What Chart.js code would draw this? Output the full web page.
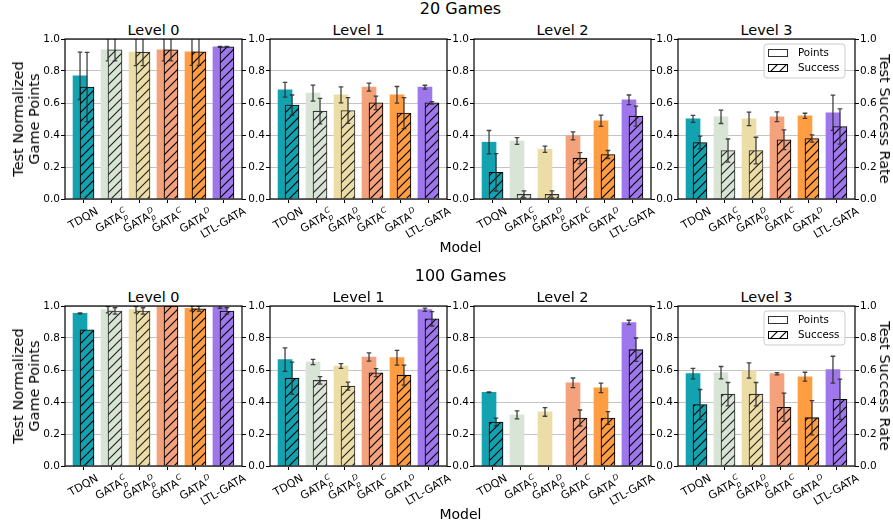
<!DOCTYPE html>
<html><head><meta charset="utf-8">
<script src="https://cdn.jsdelivr.net/npm/chart.js@4.4.1/dist/chart.umd.min.js"></script>
<style>
html,body{margin:0;padding:0;background:#fff;}
#wrap{position:relative;width:893px;height:527px;overflow:hidden;font-family:"DejaVu Sans",sans-serif;color:#000;background:#fff;}
#wrap canvas{position:absolute;}
.t{position:absolute;transform:translate(-50%,-50%);white-space:nowrap;line-height:1;}
.yl{position:absolute;white-space:nowrap;text-align:center;line-height:16px;font-size:14.5px;}
</style></head><body><div id="wrap"></div>
<script>
// ---------- data ----------
const categories = ['TDQN', 'GATA_p^C', 'GATA_p^D', 'GATA^C', 'GATA^D', 'LTL-GATA'];
const tickLabels = [
  {base: 'TDQN'},
  {base: 'GATA', sup: 'C', sub: 'p'},
  {base: 'GATA', sup: 'D', sub: 'p'},
  {base: 'GATA', sup: 'C'},
  {base: 'GATA', sup: 'D'},
  {base: 'LTL-GATA'}
];
const levelTitles = ['Level 0', 'Level 1', 'Level 2', 'Level 3'];
const rowTitles = ['20 Games', '100 Games'];
const seriesNames = ['Points', 'Success'];
const yTicks = [0, 0.2, 0.4, 0.6, 0.8, 1.0];

// 20 games: one array per level (order of categories)
const points20 = [
  [0.770, 0.933, 0.918, 0.933, 0.920, 0.951],
  [0.683, 0.662, 0.651, 0.699, 0.651, 0.699],
  [0.355, 0.363, 0.311, 0.395, 0.489, 0.620],
  [0.501, 0.514, 0.501, 0.514, 0.520, 0.539]
];
const pointsErr20 = [
  [0.148, 0.070, 0.085, 0.070, 0.085, 0.003],
  [0.046, 0.050, 0.050, 0.025, 0.052, 0.012],
  [0.073, 0.021, 0.020, 0.025, 0.035, 0.030],
  [0.022, 0.042, 0.042, 0.030, 0.016, 0.110]
];
const success20 = [
  [0.700, 0.933, 0.918, 0.933, 0.920, 0.951],
  [0.587, 0.549, 0.553, 0.601, 0.537, 0.601],
  [0.167, 0.029, 0.029, 0.255, 0.278, 0.518],
  [0.353, 0.303, 0.303, 0.370, 0.378, 0.453]
];
const successErr20 = [
  [0.217, 0.070, 0.085, 0.070, 0.085, 0.003],
  [0.063, 0.080, 0.080, 0.042, 0.097, 0.008],
  [0.117, 0.022, 0.022, 0.035, 0.025, 0.063],
  [0.040, 0.072, 0.083, 0.062, 0.023, 0.110]
];
// 100 games
const points100 = [
  [0.954, 0.977, 0.977, 1.000, 0.985, 0.994],
  [0.665, 0.650, 0.625, 0.681, 0.677, 0.977],
  [0.461, 0.319, 0.338, 0.520, 0.488, 0.897],
  [0.577, 0.583, 0.597, 0.577, 0.558, 0.602]
];
const pointsErr100 = [
  [0.003, 0.020, 0.020, 0.000, 0.015, 0.008],
  [0.073, 0.017, 0.015, 0.026, 0.046, 0.010],
  [0.002, 0.025, 0.027, 0.030, 0.030, 0.014],
  [0.033, 0.039, 0.048, 0.007, 0.028, 0.084]
];
const success100 = [
  [0.851, 0.969, 0.969, 1.000, 0.983, 0.969],
  [0.549, 0.535, 0.499, 0.583, 0.568, 0.920],
  [0.275, 0.000, 0.000, 0.300, 0.300, 0.727],
  [0.384, 0.449, 0.449, 0.367, 0.302, 0.417]
];
const successErr100 = [
  [0.000, 0.020, 0.020, 0.000, 0.015, 0.020],
  [0.100, 0.023, 0.025, 0.025, 0.063, 0.045],
  [0.024, 0.000, 0.000, 0.050, 0.040, 0.073],
  [0.094, 0.073, 0.073, 0.088, 0.107, 0.126]
];

// ---------- styles / layout ----------
const colors = ['#13a2af', '#d8e4d6', '#ecdda6', '#f4a27c', '#ff9d42', '#9e77ec'];
const edgeColors = ['#000', '#333', '#333', '#000', '#000', '#000'];
const hatchColors = ['#000', '#222', '#222', '#000', '#000', '#000'];
const FONT = '"DejaVu Sans", sans-serif';
const COL_L = [65, 270, 474, 678];
const ROW_T = [39, 306];
const PW = 177, PH = 160;
const PAD_L = 45, PAD_R = 35, PAD_T = 10, PAD_B = 60;
const X_MIN = -0.5375, X_MAX = 5.7875;
const SUCCESS_SHIFT = 0.25, TICK_SHIFT = 0.125;
const BAR = 0.5 * PW / (X_MAX - X_MIN);
const CAP = 2.3;
const ERR_COLOR = 'rgba(45,45,45,0.9)';

Chart.defaults.font.family = FONT;
Chart.defaults.color = '#000';

const wrap = document.getElementById('wrap');

function hatch(bg, line) {
  const s = 9, c = document.createElement('canvas');
  c.width = s; c.height = s;
  const g = c.getContext('2d');
  g.fillStyle = bg; g.fillRect(0, 0, s, s);
  g.strokeStyle = line; g.lineWidth = 1.15;
  g.beginPath();
  g.moveTo(-1, s + 1); g.lineTo(s + 1, -1);
  g.moveTo(-1, 1); g.lineTo(1, -1);
  g.moveTo(s - 1, s + 1); g.lineTo(s + 1, s - 1);
  g.stroke();
  return g.createPattern(c, 'repeat');
}

function addText(txt, x, y, size, cls) {
  const d = document.createElement('div');
  d.className = cls || 't';
  d.textContent = txt;
  d.style.left = x + 'px'; d.style.top = y + 'px'; d.style.fontSize = size + 'px';
  wrap.appendChild(d);
  return d;
}

const errPlugin = {
  id: 'errbars',
  afterDatasetDraw(chart, args) {
    const ds = chart.data.datasets[args.index];
    if (!ds.errs) return;
    const {ctx, chartArea: a, scales: {y}} = chart;
    ctx.save();
    ctx.beginPath(); ctx.rect(a.left, a.top, a.right - a.left, a.bottom - a.top); ctx.clip();
    ctx.strokeStyle = ERR_COLOR; ctx.lineWidth = 1.3;
    args.meta.data.forEach((bar, i) => {
      const e = ds.errs[i];
      if (!e) return;
      const v = ds.data[i].y;
      const yt = y.getPixelForValue(v + e), yb = y.getPixelForValue(v - e);
      ctx.beginPath();
      ctx.moveTo(bar.x, yt); ctx.lineTo(bar.x, yb);
      ctx.moveTo(bar.x - CAP, yt); ctx.lineTo(bar.x + CAP, yt);
      ctx.moveTo(bar.x - CAP, yb); ctx.lineTo(bar.x + CAP, yb);
      ctx.stroke();
    });
    ctx.restore();
  }
};

function drawXLabels(chart) {
  const {ctx, chartArea: a, scales: {x}} = chart;
  const f = 11, fs = f * 0.7, ang = Math.PI / 6;
  ctx.save();
  ctx.fillStyle = '#000';
  tickLabels.forEach((lab, i) => {
    const px = x.getPixelForValue(i + TICK_SHIFT);
    ctx.font = f + 'px ' + FONT;
    const wb = ctx.measureText(lab.base).width;
    ctx.font = 'italic ' + fs + 'px ' + FONT;
    const wsup = lab.sup ? ctx.measureText(lab.sup).width : 0;
    const wsub = lab.sub ? ctx.measureText(lab.sub).width : 0;
    const gap = (lab.sup || lab.sub) ? 0.8 : 0;
    const w = wb + gap + Math.max(wsup, wsub);
    const supY = -0.45 * f, subY = 0.25 * f;
    let top = -0.76 * f, bot = 0.24 * f;
    if (lab.sup) top = Math.min(top, supY - 0.76 * fs);
    if (lab.sub) bot = Math.max(bot, subY + 0.24 * fs);
    const h = bot - top;
    const Hr = w * Math.sin(ang) + h * Math.cos(ang);
    const cx = w / 2, cy = (top + bot) / 2;
    const yc = a.bottom + 7 + Hr / 2;
    ctx.save();
    ctx.translate(px, yc); ctx.rotate(-ang); ctx.translate(-cx, -cy);
    ctx.textAlign = 'left'; ctx.textBaseline = 'alphabetic';
    ctx.font = f + 'px ' + FONT;
    ctx.fillText(lab.base, 0, 0);
    ctx.font = 'italic ' + fs + 'px ' + FONT;
    if (lab.sup) ctx.fillText(lab.sup, wb + gap, supY);
    if (lab.sub) ctx.fillText(lab.sub, wb + gap, subY);
    ctx.restore();
  });
  ctx.restore();
}

function drawLegend(chart) {
  const {ctx, chartArea: a} = chart;
  const bx = a.right - 91, by = a.top + 5, bw = 81, bh = 34, r = 3;
  ctx.save();
  ctx.beginPath();
  ctx.moveTo(bx + r, by); ctx.lineTo(bx + bw - r, by); ctx.arcTo(bx + bw, by, bx + bw, by + r, r);
  ctx.lineTo(bx + bw, by + bh - r); ctx.arcTo(bx + bw, by + bh, bx + bw - r, by + bh, r);
  ctx.lineTo(bx + r, by + bh); ctx.arcTo(bx, by + bh, bx, by + bh - r, r);
  ctx.lineTo(bx, by + r); ctx.arcTo(bx, by, bx + r, by, r);
  ctx.closePath();
  ctx.fillStyle = 'rgba(255,255,255,0.8)'; ctx.fill();
  ctx.strokeStyle = '#cccccc'; ctx.lineWidth = 1; ctx.stroke();
  seriesNames.forEach((name, k) => {
    const cy = by + 9 + k * 15;
    const sx = bx + 4.5, sw = 19, sh = 7;
    ctx.fillStyle = k ? hatch('#fff', '#000') : '#fff';
    ctx.fillRect(sx, cy - sh / 2, sw, sh);
    ctx.strokeStyle = k ? '#000' : '#333'; ctx.lineWidth = 1;
    ctx.strokeRect(sx, cy - sh / 2, sw, sh);
    ctx.fillStyle = '#000'; ctx.font = '10.3px ' + FONT;
    ctx.textAlign = 'left'; ctx.textBaseline = 'middle';
    ctx.fillText(name, bx + 34, cy);
  });
  ctx.restore();
}

function makeChart(row, col) {
  const pts = (row === 0 ? points20 : points100)[col];
  const pErr = (row === 0 ? pointsErr20 : pointsErr100)[col];
  const suc = (row === 0 ? success20 : success100)[col];
  const sErr = (row === 0 ? successErr20 : successErr100)[col];
  const last = col === 3;
  const cv = document.createElement('canvas');
  cv.width = PAD_L + PW + PAD_R; cv.height = PAD_T + PH + PAD_B;
  cv.style.left = (COL_L[col] - PAD_L) + 'px';
  cv.style.top = (ROW_T[row] - PAD_T) + 'px';
  wrap.appendChild(cv);
  new Chart(cv.getContext('2d'), {
    type: 'bar',
    data: {
      datasets: [
        {label: seriesNames[0], data: pts.map((v, i) => ({x: i, y: v})), errs: pErr,
         backgroundColor: colors, borderWidth: 0, barThickness: BAR, grouped: false, order: 2},
        {label: seriesNames[1], data: suc.map((v, i) => ({x: i + SUCCESS_SHIFT, y: v})), errs: sErr,
         backgroundColor: colors.map((c, i) => hatch(c, hatchColors[i])),
         borderColor: edgeColors, borderWidth: 1.1, barThickness: BAR, grouped: false, order: 1}
      ]
    },
    options: {
      responsive: false, animation: false, devicePixelRatio: 1, events: [],
      layout: {padding: {top: PAD_T, left: 0, right: 0, bottom: 0}},
      plugins: {legend: {display: false}, tooltip: {enabled: false}, title: {display: false}},
      scales: {
        x: {
          type: 'linear', min: X_MIN, max: X_MAX, offset: false, bounds: 'data',
          afterBuildTicks: s => { s.ticks = categories.map((c, i) => ({value: i + TICK_SHIFT})); },
          afterFit: s => { s.height = PAD_B; },
          grid: {display: true, drawOnChartArea: false, drawTicks: true, tickLength: 4, tickColor: '#000', tickWidth: 1, offset: false},
          border: {display: false},
          ticks: {autoSkip: false, maxRotation: 0, callback: () => ''}
        },
        y: {
          position: 'left', min: 0, max: 1,
          afterBuildTicks: s => { s.ticks = yTicks.map(v => ({value: v})); },
          afterFit: s => { s.width = PAD_L; },
          grid: {color: '#c4c4c4', lineWidth: 1, tickColor: '#000', tickLength: 4, tickWidth: 1},
          border: {display: false},
          ticks: {font: {size: 10.5, family: FONT}, color: '#000', padding: 1, callback: v => Number(v).toFixed(1)}
        },
        y2: {
          position: 'right', min: 0, max: 1,
          afterBuildTicks: s => { s.ticks = yTicks.map(v => ({value: v})); },
          afterFit: s => { s.width = PAD_R; },
          grid: {drawOnChartArea: false, tickColor: '#000', tickLength: 4, tickWidth: 1},
          border: {display: false},
          ticks: {font: {size: 10.5, family: FONT}, color: '#000', padding: 1,
                  callback: v => last ? Number(v).toFixed(1) : ''}
        }
      }
    },
    plugins: [errPlugin, {
      id: 'deco',
      afterDraw(chart) {
        const {ctx, chartArea: a} = chart;
        ctx.save();
        ctx.strokeStyle = '#000'; ctx.lineWidth = 1.2;
        ctx.strokeRect(a.left, a.top, a.right - a.left, a.bottom - a.top);
        ctx.restore();
        drawXLabels(chart);
        if (last) drawLegend(chart);
      }
    }]
  });
}

// ---------- text ----------
for (let row = 0; row < 2; row++) {
  const T = ROW_T[row];
  addText(rowTitles[row], 460.5, T - 30.5, 16);
  for (let col = 0; col < 4; col++) {
    addText(levelTitles[col], COL_L[col] + PW / 2, T - 9, 14.5);
    makeChart(row, col);
  }
  addText('Model', 460.5, T + 207.5, 14);
  const yl = document.createElement('div');
  yl.className = 'yl';
  yl.innerHTML = 'Test Normalized<br>Game Points';
  yl.style.left = '25.5px'; yl.style.top = (T + PH / 2) + 'px';
  yl.style.transform = 'translate(-50%,-50%) rotate(-90deg)';
  wrap.appendChild(yl);
  const yr = document.createElement('div');
  yr.className = 'yl';
  yr.textContent = 'Test Success Rate';
  yr.style.left = '885px'; yr.style.top = (T + PH / 2) + 'px';
  yr.style.transform = 'translate(-50%,-50%) rotate(90deg)';
  wrap.appendChild(yr);
}
</script>
</body></html>
